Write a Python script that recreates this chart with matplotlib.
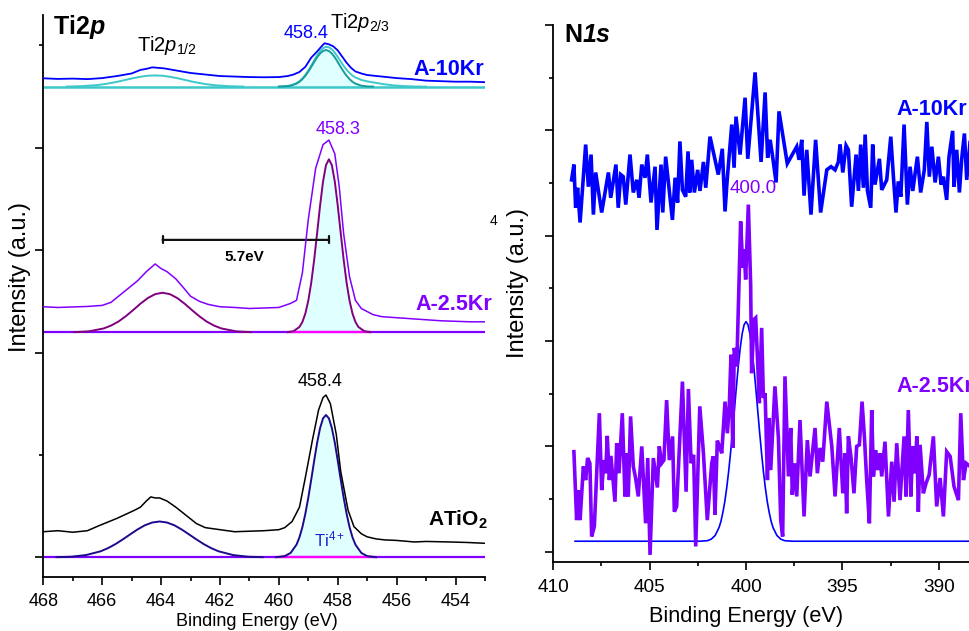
import numpy as np
import matplotlib.pyplot as plt
from matplotlib.ticker import MultipleLocator, FixedLocator

plt.rcParams['font.family'] = ['Liberation Sans', 'DejaVu Sans']
plt.rcParams['mathtext.fontset'] = 'custom'
plt.rcParams['mathtext.rm'] = 'Liberation Sans'
plt.rcParams['mathtext.it'] = 'Liberation Sans:italic'
plt.rcParams['mathtext.bf'] = 'Liberation Sans:bold'
plt.rcParams['mathtext.bfit'] = 'Liberation Sans:italic:bold'

# ---------------- Ti 2p (left panel) ----------------
# ATiO2 experimental
E_ati = [468.0, 467.5, 467.0, 466.5, 466.1, 465.8, 465.5, 465.2, 464.9, 464.7,
         464.5, 464.35, 464.2, 464.05, 463.8, 463.5, 463.15, 462.8, 462.5, 462.0,
         461.5, 461.0, 460.5, 460.0, 459.8, 459.55, 459.3, 459.1, 458.85, 458.65,
         458.5, 458.4, 458.25, 458.05, 457.9, 457.65, 457.45, 457.2, 457.0, 456.7,
         456.4, 456.0, 455.4, 455.0, 454.2, 453.6, 453.0]
I_ati = [0.25, 0.26, 0.245, 0.26, 0.31, 0.345, 0.38, 0.42, 0.46, 0.49,
         0.55, 0.59, 0.58, 0.58, 0.55, 0.49, 0.41, 0.33, 0.29, 0.27,
         0.25, 0.255, 0.26, 0.27, 0.29, 0.35, 0.49, 0.78, 1.16, 1.44,
         1.56, 1.585, 1.50, 1.20, 0.84, 0.46, 0.30, 0.23, 0.20, 0.18,
         0.17, 0.165, 0.15, 0.155, 0.15, 0.145, 0.137]
base_ati = 0.0
E_ati_p12 = [467.55, 467.05, 466.55, 466.05, 465.8, 465.55, 465.3, 465.05, 464.8, 464.55, 464.3, 464.05,
             463.8, 463.55, 463.3, 463.05, 462.8, 462.55, 462.3, 462.05, 461.55, 461.05, 460.55]
I_ati_p12 = [0.0015, 0.006, 0.022, 0.059, 0.090, 0.129, 0.175, 0.224, 0.272, 0.313, 0.340, 0.350,
             0.340, 0.313, 0.272, 0.224, 0.175, 0.129, 0.090, 0.059, 0.022, 0.006, 0.0015]
E_ati_p32 = [460.1, 459.8, 459.6, 459.4, 459.3, 459.2, 459.1, 459.0, 458.9, 458.8, 458.7, 458.6, 458.5,
             458.4, 458.3, 458.2, 458.1, 458.0, 457.9, 457.8, 457.7, 457.6, 457.5, 457.4, 457.2, 457.0, 456.7]
I_ati_p32 = [0.001, 0.012, 0.043, 0.124, 0.196, 0.296, 0.426, 0.583, 0.760, 0.944, 1.119, 1.262, 1.357,
             1.390, 1.357, 1.262, 1.119, 0.944, 0.760, 0.583, 0.426, 0.296, 0.196, 0.124, 0.043, 0.012, 0.001]

# A-2.5Kr experimental
E_25 = [468.0, 467.5, 467.0, 466.5, 466.0, 465.7, 465.4, 465.1, 464.8, 464.5,
        464.3, 464.2, 464.0, 463.8, 463.5, 463.2, 463.0, 462.7, 462.4, 462.0,
        461.5, 461.0, 460.5, 460.0, 459.8, 459.6, 459.4, 459.2, 459.0, 458.75,
        458.5, 458.3, 458.1, 457.95, 457.8, 457.6, 457.4, 457.2, 457.0, 456.8,
        456.5, 456.0, 455.5, 455.0, 454.5, 454.0, 453.5, 453.0]
I_25 = [2.447, 2.44, 2.445, 2.45, 2.46, 2.49, 2.56, 2.63, 2.70, 2.79,
        2.84, 2.865, 2.82, 2.79, 2.72, 2.62, 2.55, 2.50, 2.47, 2.447,
        2.44, 2.43, 2.435, 2.44, 2.46, 2.48, 2.51, 2.78, 3.30, 3.80,
        4.03, 4.075, 3.94, 3.62, 3.16, 2.74, 2.51, 2.43, 2.40, 2.37,
        2.35, 2.34, 2.33, 2.32, 2.31, 2.305, 2.30, 2.30]
base_25 = 2.197
E_25_p12 = [466.95, 466.45, 465.95, 465.7, 465.45, 465.2, 464.95, 464.7, 464.45, 464.2, 463.95,
            463.7, 463.45, 463.2, 462.95, 462.7, 462.45, 462.2, 461.95, 461.45, 460.95]
I_25_p12 = [0.002, 0.010, 0.038, 0.066, 0.105, 0.157, 0.217, 0.280, 0.335, 0.373, 0.387,
            0.373, 0.335, 0.280, 0.217, 0.157, 0.105, 0.066, 0.038, 0.010, 0.002]
E_25_p32 = [459.7, 459.5, 459.3, 459.2, 459.1, 459.0, 458.9, 458.8, 458.7, 458.6, 458.5, 458.4, 458.3,
            458.2, 458.1, 458.0, 457.9, 457.8, 457.7, 457.6, 457.5, 457.4, 457.3, 457.1, 456.9]
I_25_p32 = [0.002, 0.012, 0.053, 0.102, 0.184, 0.310, 0.486, 0.711, 0.971, 1.238, 1.472, 1.633, 1.690,
            1.633, 1.472, 1.238, 0.971, 0.711, 0.486, 0.310, 0.184, 0.102, 0.053, 0.012, 0.002]

# A-10Kr experimental
E_10 = [468.0, 467.5, 467.0, 466.5, 466.0, 465.5, 465.0, 464.7, 464.5, 464.3,
        464.1, 463.9, 463.6, 463.3, 463.0, 462.5, 462.0, 461.5, 461.0, 460.5,
        460.0, 459.7, 459.5, 459.3, 459.1, 458.9, 458.7, 458.55, 458.45, 458.3,
        458.15, 458.0, 457.85, 457.7, 457.55, 457.4, 457.2, 457.0, 456.5, 456.0,
        455.5, 455.0, 454.5, 454.0, 453.5, 453.0]
I_10 = [4.678, 4.672, 4.675, 4.67, 4.68, 4.70, 4.725, 4.76, 4.77, 4.785,
        4.78, 4.775, 4.76, 4.745, 4.73, 4.715, 4.70, 4.695, 4.69, 4.688,
        4.69, 4.70, 4.715, 4.74, 4.79, 4.88, 4.94, 4.99, 5.02, 5.01,
        4.99, 4.95, 4.89, 4.83, 4.78, 4.745, 4.725, 4.71, 4.695, 4.68,
        4.67, 4.655, 4.65, 4.645, 4.645, 4.64]
base_10 = 4.596
E_10_p12 = [467.2, 466.7, 466.2, 465.95, 465.7, 465.45, 465.2, 464.95, 464.7, 464.45, 464.2,
            463.95, 463.7, 463.45, 463.2, 462.95, 462.7, 462.45, 462.2, 461.7, 461.2]
I_10_p12 = [0.001, 0.005, 0.015, 0.024, 0.036, 0.050, 0.067, 0.083, 0.097, 0.107, 0.110,
            0.107, 0.097, 0.083, 0.067, 0.050, 0.036, 0.024, 0.015, 0.005, 0.001]
E_10_p32 = [460.0, 459.8, 459.6, 459.4, 459.3, 459.2, 459.1, 459.0, 458.9, 458.8, 458.7, 458.6, 458.5,
            458.4, 458.3, 458.2, 458.1, 458.0, 457.9, 457.8, 457.7, 457.6, 457.5, 457.4, 457.2, 457.0, 456.8]
I_10_p32 = [0.001, 0.003, 0.010, 0.030, 0.048, 0.074, 0.107, 0.147, 0.193, 0.241, 0.287, 0.324, 0.349,
            0.358, 0.349, 0.324, 0.287, 0.241, 0.193, 0.147, 0.107, 0.074, 0.048, 0.030, 0.010, 0.003, 0.001]
E_10_env = [460.0, 459.8, 459.6, 459.4, 459.3, 459.2, 459.1, 459.0, 458.9, 458.8, 458.7, 458.6,
            458.5, 458.4, 458.3, 458.2, 458.1, 458.0, 457.9, 457.8, 457.7, 457.6, 457.5, 457.4,
            457.2, 457.0, 456.8, 456.6, 456.4, 456.2, 456.0, 455.6, 455.2, 455.0]
I_10_env = [0.001, 0.004, 0.012, 0.034, 0.053, 0.080, 0.115, 0.157, 0.206, 0.257, 0.307, 0.347,
            0.376, 0.390, 0.385, 0.365, 0.332, 0.290, 0.246, 0.203, 0.165, 0.134, 0.108, 0.090,
            0.066, 0.052, 0.042, 0.032, 0.023, 0.016, 0.010, 0.004, 0.001, 0.0]

p12_center = 463.95
p32_center = 458.3

# ---------------- N 1s (right panel) ----------------
E_n10 = [409.05, 408.93, 408.84, 408.74, 408.61, 408.32, 408.18, 408.04, 407.92, 407.80,
         407.49, 407.14, 407.02, 406.75, 406.63, 406.50, 406.37, 406.24, 406.02, 405.85,
         405.67, 405.55, 405.41, 405.24, 405.12, 404.93, 404.72, 404.62, 404.41, 404.32,
         404.17, 403.82, 403.68, 403.55, 403.43, 403.30, 403.13, 403.01, 402.92, 402.82,
         402.68, 402.51, 402.39, 402.21, 402.09, 401.87, 401.44, 401.23, 401.09, 400.97,
         400.74, 400.62, 400.52, 400.31, 400.05, 399.91, 399.53, 399.22, 399.01, 398.88,
         398.75, 398.62, 398.44, 398.29, 397.86, 397.37, 397.25, 397.11, 396.99, 396.85,
         396.63, 396.39, 396.13, 395.81, 395.59, 395.38, 395.21, 395.12, 394.98, 394.81,
         394.69, 394.52, 394.29, 394.17, 394.05, 393.91, 393.82, 393.70, 393.53, 393.43,
         393.31, 393.08, 392.96, 392.70, 392.49, 392.35, 392.22, 392.10, 391.97, 391.80,
         391.63, 391.49, 391.35, 391.11, 390.94, 390.75, 390.62, 390.49, 390.36, 390.19,
         390.02, 389.88, 389.76, 389.59, 389.47, 389.28, 389.21, 389.07, 388.93, 388.81,
         388.67, 388.55, 388.38]
I_n10 = [7.06, 7.35, 6.53, 6.91, 6.25, 7.73, 6.93, 7.54, 6.40, 7.20,
         6.44, 7.20, 6.72, 7.35, 6.53, 7.16, 7.12, 6.59, 7.54, 6.82,
         7.06, 6.72, 7.35, 7.10, 7.54, 6.63, 7.31, 6.11, 7.35, 6.44,
         7.50, 6.30, 7.10, 6.63, 7.79, 6.87, 6.74, 7.60, 6.82, 7.44,
         6.82, 7.25, 6.85, 7.40, 6.91, 7.88, 7.16, 7.65, 6.46, 7.10,
         8.11, 7.29, 8.26, 7.54, 8.62, 7.46, 9.10, 7.40, 8.72, 7.48,
         7.82, 7.50, 7.01, 8.36, 7.37, 7.69, 7.44, 7.82, 6.76, 7.63,
         6.40, 7.82, 6.44, 7.25, 7.31, 7.25, 7.40, 7.73, 7.20, 7.71,
         7.63, 6.55, 7.54, 6.85, 7.73, 6.91, 7.92, 6.85, 6.53, 7.73,
         6.97, 7.46, 6.87, 7.06, 7.88, 7.10, 6.44, 7.03, 6.74, 8.11,
         6.59, 7.31, 6.85, 7.50, 6.82, 7.25, 8.16, 7.12, 7.69, 7.01,
         7.50, 6.97, 7.12, 6.68, 7.50, 7.99, 6.93, 7.63, 6.82, 7.46,
         7.94, 7.06, 7.77]

E_n25 = [408.93, 408.79, 408.70, 408.61, 408.44, 408.32, 408.22, 408.10, 408.01, 407.87,
         407.61, 407.49, 407.37, 407.28, 407.20, 407.09, 407.01, 406.80, 406.71, 406.59,
         406.42, 406.28, 406.19, 406.11, 405.99, 405.85, 405.73, 405.59, 405.41, 405.21,
         405.10, 404.98, 404.81, 404.60, 404.50, 404.38, 404.26, 404.12, 403.98, 403.81,
         403.72, 403.60, 403.30, 403.11, 402.99, 402.85, 402.72, 402.61, 402.40, 402.21,
         402.01, 401.78, 401.70, 401.61, 401.49, 401.35, 401.26, 401.09, 400.97, 400.87,
         400.78, 400.69, 400.61, 400.48, 400.28, 400.17, 400.10, 400.02, 399.88, 399.76,
         399.71, 399.59, 399.50, 399.41, 399.31, 399.19, 399.10, 399.01, 398.89, 398.81,
         398.72, 398.50, 398.32, 398.20, 398.10, 397.98, 397.80, 397.68, 397.60, 397.49,
         397.37, 397.20, 396.99, 396.82, 396.68, 396.42, 396.30, 396.16, 396.02, 395.81,
         395.55, 395.38, 395.16, 394.98, 394.86, 394.78, 394.69, 394.55, 394.40, 394.26,
         394.12, 393.98, 393.86, 393.74, 393.60, 393.48, 393.39, 393.27, 393.17, 393.05,
         392.96, 392.79, 392.61, 392.44, 392.32, 392.18, 392.01, 391.80, 391.70, 391.58,
         391.45, 391.35, 391.23, 391.14, 391.06, 390.97, 390.80, 390.66, 390.50, 390.28,
         390.11, 389.93, 389.76, 389.59, 389.41, 389.21, 388.98, 388.86, 388.72, 388.58,
         388.38]
I_n25 = [1.90, 0.60, 1.17, 0.60, 1.62, 1.36, 1.78, 1.68, 0.29, 0.48,
         2.63, 1.17, 1.74, 1.49, 2.20, 1.36, 1.82, 0.95, 2.06, 1.49,
         2.63, 1.05, 1.87, 1.05, 2.57, 1.62, 1.40, 1.05, 2.00, 0.54,
         1.78, -0.06, 1.78, 1.22, 2.00, 1.68, 1.74, 2.88, 1.74, 2.19,
         0.76, 0.86, 3.23, 1.14, 3.09, 1.68, 1.84, 0.10, 2.76, 1.87,
         0.60, 1.68, 1.81, 0.70, 2.11, 1.97, 1.87, 2.85, 2.25, 2.76,
         3.74, 1.97, 3.87, 3.52, 6.27, 5.39, 5.74, 5.17, 6.59, 5.07,
         3.39, 4.41, 4.44, 3.71, 2.82, 4.25, 2.92, 3.01, 1.36, 2.54,
         1.55, 3.14, 2.16, 0.60, 0.29, 3.33, 1.43, 2.35, 1.08, 1.68,
         1.05, 2.50, 0.67, 2.12, 1.43, 2.35, 1.49, 1.97, 1.71, 2.85,
         2.00, 1.05, 2.35, 1.11, 1.87, 0.73, 2.19, 1.78, 1.11, 2.00,
         2.03, 2.85, 2.19, 1.36, 0.54, 2.69, 1.43, 1.93, 1.55, 1.87,
         1.43, 2.09, 0.67, 1.71, 0.95, 2.06, 0.98, 2.19, 1.05, 2.69,
         1.05, 2.00, 1.49, 2.19, 0.76, 2.03, 1.11, 1.30, 1.46, 2.19,
         0.86, 1.40, 0.67, 1.90, 1.81, 1.24, 0.98, 2.63, 1.36, 1.68,
         1.62]

E_nfit = [408.87, 402.4, 402.0, 401.8, 401.6, 401.4, 401.3, 401.2, 401.1, 401.0,
          400.9, 400.8, 400.7, 400.6, 400.5, 400.4, 400.3, 400.2, 400.1, 400.0,
          399.9, 399.8, 399.7, 399.6, 399.5, 399.4, 399.3, 399.2, 399.1, 399.0,
          398.9, 398.8, 398.7, 398.6, 398.4, 398.2, 398.0, 397.6, 388.38]
I_nfit = [0.20, 0.20, 0.21, 0.24, 0.31, 0.46, 0.58, 0.75, 0.955, 1.22,
          1.53, 1.89, 2.29, 2.71, 3.13, 3.53, 3.87, 4.14, 4.31, 4.37,
          4.31, 4.14, 3.87, 3.53, 3.13, 2.71, 2.29, 1.89, 1.53, 1.22,
          0.955, 0.75, 0.58, 0.46, 0.31, 0.24, 0.21, 0.20, 0.20]

BLUE = '#0000ff'
VIOLET = '#8000ff'
PLUM = '#800080'
NAVY = '#1c0a8c'
TEAL = '#169c9c'
TURQ = '#3cc8c8'
FILL = '#e0ffff'
MAGENTA = '#ff00ff'

fig = plt.figure(figsize=(9.7, 6.31), dpi=100)
ax1 = fig.add_axes([0.0446, 0.0856, 0.4554, 0.8906])
ax2 = fig.add_axes([0.5704, 0.1089, 0.4296, 0.8515])


def shifted(vals, base):
    return np.array(vals) + base


# fills under the 2p3/2 components
for E, I, b in [(E_ati_p32, I_ati_p32, base_ati), (E_25_p32, I_25_p32, base_25),
                (E_10_p32, I_10_p32, base_10)]:
    ax1.fill_between(E, b, shifted(I, b), color=FILL, lw=0, zorder=1)

# baselines
ax1.axhline(base_ati, color=VIOLET, lw=1.6, zorder=2)
ax1.plot(E_ati_p32, [base_ati] * len(E_ati_p32), color=MAGENTA, lw=1.6, zorder=2)
ax1.axhline(base_25, color=VIOLET, lw=1.6, zorder=2)
ax1.plot(E_25_p32, [base_25] * len(E_25_p32), color=MAGENTA, lw=1.6, zorder=2)
ax1.axhline(base_10, color=TURQ, lw=1.8, zorder=2)

# fitted components
ax1.plot(E_ati_p12, shifted(I_ati_p12, base_ati), color=NAVY, lw=1.4, zorder=3)
ax1.plot(E_ati_p32, shifted(I_ati_p32, base_ati), color=NAVY, lw=1.4, zorder=3)
ax1.plot(E_25_p12, shifted(I_25_p12, base_25), color=PLUM, lw=1.4, zorder=3)
ax1.plot(E_25_p32, shifted(I_25_p32, base_25), color=PLUM, lw=1.4, zorder=3)
ax1.plot(E_10_p12, shifted(I_10_p12, base_10), color=TURQ, lw=1.4, zorder=3)
ax1.plot(E_10_env, shifted(I_10_env, base_10), color=TURQ, lw=1.4, zorder=3)
ax1.plot(E_10_p32, shifted(I_10_p32, base_10), color=TEAL, lw=1.4, zorder=3)

# experimental curves
ax1.plot(E_ati, I_ati, color='black', lw=1.1, zorder=4)
ax1.plot(E_25, I_25, color=VIOLET, lw=1.1, zorder=4)
ax1.plot(E_10, I_10, color=BLUE, lw=1.3, zorder=4)

# splitting bar
ax1.annotate('', xy=(p32_center, 3.10), xytext=(p12_center, 3.10),
             arrowprops=dict(arrowstyle='|-|,widthA=0.25,widthB=0.25', lw=1.6, color='#111111',
                             shrinkA=0, shrinkB=0))
ax1.text(461.17, 2.93, '5.7eV', fontsize=11, fontweight='bold', ha='center', va='center')

# labels in left panel
ax1.text(467.67, 5.18, r'Ti2$\mathbfit{p}$', fontsize=18, fontweight='bold', ha='left', va='center')
ax1.text(463.8, 5.0, r'Ti2$\mathit{p}_{\mathrm{1/2}}$', fontsize=14.5, ha='center', va='center')
ax1.text(458.28, 5.22, r'Ti2$\mathit{p}_{\mathrm{2/3}}$', fontsize=14.5, ha='left', va='center')
ax1.text(459.07, 5.12, '458.4', fontsize=13, color=BLUE, ha='center', va='center')
ax1.text(458.0, 4.18, '458.3', fontsize=13, color=VIOLET, ha='center', va='center')
ax1.text(458.6, 1.715, '458.4', fontsize=13, color='black', ha='center', va='center')
ax1.text(458.28, 0.17, r'Ti$^{\mathrm{4+}}$', fontsize=12, color='#2020d0', ha='center', va='center')
ax1.text(453.03, 4.76, 'A-10Kr', fontsize=15.5, fontweight='bold', color=BLUE, ha='right', va='center')
ax1.text(452.75, 2.465, 'A-2.5Kr', fontsize=15.5, fontweight='bold', color=VIOLET,
         ha='right', va='center', clip_on=False)
ax1.text(452.93, 0.37, r'ATiO$_\mathbf{2}$', fontsize=15, fontweight='bold', ha='right', va='center')

ax1.set_xlim(468, 453)
ax1.set_ylim(-0.192, 5.296)
ax1.xaxis.set_major_locator(MultipleLocator(2))
ax1.xaxis.set_minor_locator(MultipleLocator(1))
ax1.yaxis.set_major_locator(FixedLocator([0, 2, 3, 4]))
ax1.yaxis.set_minor_locator(FixedLocator([1, 5]))

# ---------------- right panel ----------------
ax2.plot(E_nfit, I_nfit, color=BLUE, lw=1.2, zorder=2)
ax2.plot(E_n25, I_n25, color=VIOLET, lw=2.6, zorder=3, solid_joinstyle='miter')
ax2.plot(E_n10, I_n10, color=BLUE, lw=2.6, zorder=3, solid_joinstyle='miter')

ax2.text(409.43, 9.81, r'N$\mathbfit{1s}$', fontsize=18, fontweight='bold', ha='left', va='center')
ax2.text(399.63, 6.89, '400.0', fontsize=13.5, color=VIOLET, ha='center', va='center', zorder=1)
ax2.text(392.22, 8.40, 'A-10Kr', fontsize=15.5, fontweight='bold', color=BLUE, ha='left', va='center',
         clip_on=False)
ax2.text(392.22, 3.14, 'A-2.5Kr', fontsize=15.5, fontweight='bold', color=VIOLET, ha='left',
         va='center', clip_on=False)

ax2.set_xlim(410, 388.38)
ax2.set_ylim(-0.2, 10.0)
ax2.xaxis.set_major_locator(MultipleLocator(5))
ax2.xaxis.set_minor_locator(MultipleLocator(2.5))
ax2.yaxis.set_major_locator(MultipleLocator(2))
ax2.yaxis.set_minor_locator(MultipleLocator(1))

for ax, lsize, lpad in [(ax1, 13, 5.5), (ax2, 13.7, 6.5)]:
    for side in ['top', 'right']:
        ax.spines[side].set_visible(False)
    for side in ['left', 'bottom']:
        ax.spines[side].set_linewidth(1.3)
    ax.tick_params(which='major', direction='out', length=5.8, width=1.2, labelsize=lsize, pad=lpad)
    ax.tick_params(which='minor', direction='out', length=3.0, width=1.2)
    ax.tick_params(axis='y', labelleft=False)

# axis titles
fig.text(0.0206, 0.561, 'Intensity (a.u.)', fontsize=17, rotation=90, ha='center', va='center')
fig.text(0.534, 0.5515, 'Intensity (a.u.)', fontsize=17, rotation=90, ha='center', va='center')
fig.text(0.265, 0.0147, 'Binding Energy (eV)', fontsize=13, ha='center', va='center')
fig.text(0.769, 0.0227, 'Binding Energy (eV)', fontsize=15.7, ha='center', va='center')
fig.text(0.5045, 0.649, '4', fontsize=10, ha='left', va='center')

fig.savefig('out.png', dpi=100)
